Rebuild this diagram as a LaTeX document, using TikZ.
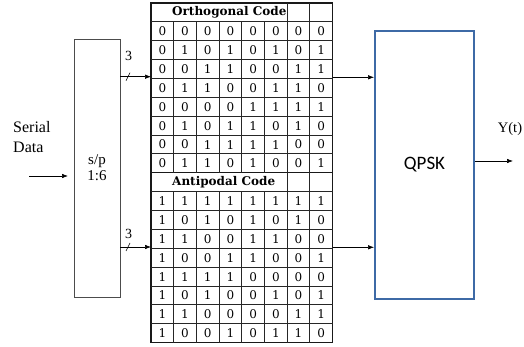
\documentclass[tikz,border=0pt]{standalone}
\usepackage{fontspec}
\setmainfont{Liberation Serif}
\newfontfamily\tabfont{DejaVu Serif}
\newfontfamily\boxfont{Carlito}
\usetikzlibrary{arrows.meta}

\begin{document}
\begin{tikzpicture}[x=1pt,y=-1pt,
  flow/.style={-{Latex[length=6pt,width=4.5pt]}, line width=0.6pt, black},
  block/.style={draw=black!70, line width=0.7pt, inner sep=0pt, outer sep=0pt},
  tblock/.style={draw=black!90, line width=1.3pt, inner sep=0pt, outer sep=0pt,
                 minimum width=181.6pt, minimum height=169.8pt, anchor=north west},
  gridline/.style={draw=black!85, line width=1pt},
  bit/.style={font=\tabfont\fontsize{12}{12}\selectfont, inner sep=0pt},
  hdr/.style={font=\tabfont\bfseries\fontsize{12}{12}\selectfont, inner sep=0pt, anchor=west},
  lbl/.style={font=\fontsize{15}{16}\selectfont, inner sep=0pt, align=center},
]
\useasboundingbox (0,0) rectangle (524,347);

% serial-to-parallel converter
\node[block, minimum width=46pt, minimum height=258pt] (sp) at (97,168) {};
\node[lbl] (sptext) at (sp.center) {s/p\\1:6};

% QPSK modulator
\node[draw={rgb,255:red,62;green,106;blue,166}, line width=1.8pt, inner sep=0pt,
      minimum width=99pt, minimum height=268pt, font=\boxfont\fontsize{19}{19}\selectfont]
      (qpsk) at (424.5,165) {QPSK};

% code tables
\node[tblock] (orth) at (151,3) {};
\node[tblock] (anti) at (151,172.8) {};

\foreach \tb/\top in {orth/3, anti/172.8} {
  \foreach \k in {0,...,7}
    \draw[gridline] (151,\top+19+\k*18.85) -- (332.6,\top+19+\k*18.85);
  \foreach \c in {1,...,5}
    \draw[gridline] (151+\c*22.7,\top+19) -- (151+\c*22.7,\top+169.8);
  \foreach \c in {6,7}
    \draw[gridline] (151+\c*22.7,\top) -- (151+\c*22.7,\top+169.8);
}

\node[hdr] (orthhead) at (172,12.5) {Orthogonal Code};
\node[hdr] (antihead) at (172,182.3) {Antipodal Code};

\foreach \row [count=\r] in {
  {0,0,0,0,0,0,0,0},{0,1,0,1,0,1,0,1},{0,0,1,1,0,0,1,1},{0,1,1,0,0,1,1,0},
  {0,0,0,0,1,1,1,1},{0,1,0,1,1,0,1,0},{0,0,1,1,1,1,0,0},{0,1,1,0,1,0,0,1}} {
  \foreach \b [count=\c] in \row
    \node[bit] (o-\r-\c) at (151+\c*22.7-11.35, 22+\r*18.85-9.4) {\b};
}
\foreach \row [count=\r] in {
  {1,1,1,1,1,1,1,1},{1,0,1,0,1,0,1,0},{1,1,0,0,1,1,0,0},{1,0,0,1,1,0,0,1},
  {1,1,1,1,0,0,0,0},{1,0,1,0,0,1,0,1},{1,1,0,0,0,0,1,1},{1,0,0,1,0,1,1,0}} {
  \foreach \b [count=\c] in \row
    \node[bit] (a-\r-\c) at (151+\c*22.7-11.35, 191.8+\r*18.85-9.4) {\b};
}

% connectors
\coordinate (src) at (29,176);
\coordinate (out) at (513,161);
\coordinate (busA) at (0,76.7);
\coordinate (busB) at (0,247);
\coordinate (busC) at (0,77.3);
\coordinate (busD) at (0,247.3);

\draw[flow, shorten >=6pt] (src) -- (sp.west |- src);
\draw[flow] (sp.east |- busA) -- (orth.west |- busA);
\draw[flow] (sp.east |- busB) -- (anti.west |- busB);
\draw[flow] (orth.east |- busC) -- (qpsk.west |- busC);
\draw[flow] (anti.east |- busD) -- (qpsk.west |- busD);
\draw[flow] (qpsk.east |- out) -- (out);

% bus-width marks
\draw[line width=0.6pt] (126,80.7) -- (130,72.7);
\draw[line width=0.6pt] (126,251) -- (130,243);
\node[lbl, font=\fontsize{14}{14}\selectfont] (wA) at (128.5,55.5) {3};
\node[lbl, font=\fontsize{14}{14}\selectfont] (wB) at (128.5,234) {3};

% text labels
\node[lbl, font=\fontsize{16}{20}\selectfont, align=left, anchor=west] (serial) at (13,137) {Serial\\Data};
\node[lbl, font=\fontsize{14.5}{14.5}\selectfont] (yt) at (510,129) {Y(t)};
\end{tikzpicture}
\end{document}
